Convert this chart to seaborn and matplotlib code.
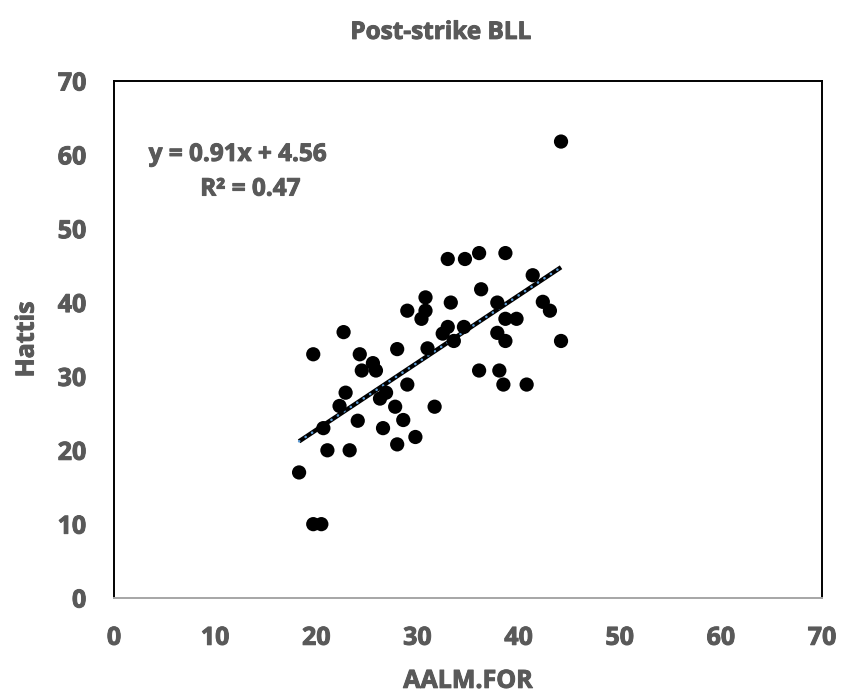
import numpy as np
import pandas as pd
import matplotlib
matplotlib.use("Agg")
import matplotlib.pyplot as plt
import matplotlib.patheffects as pe
import seaborn as sns

# AALM.FOR predictions vs. Hattis values (post-strike blood lead levels)
aalm_for = [18.3, 19.7, 20.5, 19.7, 20.7, 21.1, 22.3, 22.9, 22.7, 23.3,
            24.1, 24.3, 24.5, 25.6, 25.9, 26.3, 26.9, 26.6, 27.8, 28.0,
            28.0, 28.6, 29.0, 29.0, 29.8, 30.4, 30.8, 30.8, 31.0, 31.7,
            32.5, 33.0, 33.0, 33.3, 33.6, 34.6, 34.7, 36.1, 36.1, 36.3,
            37.9, 37.9, 38.1, 38.7, 38.7, 38.7, 38.5, 39.8, 40.8, 41.4,
            42.4, 43.1, 44.2, 44.2]
hattis = [17.0, 10.0, 10.0, 33.0, 23.0, 20.0, 26.0, 27.8, 36.0, 20.0,
          24.0, 33.0, 30.8, 31.8, 30.8, 27.0, 27.8, 23.0, 25.9, 20.8,
          33.7, 24.1, 28.9, 38.9, 21.8, 37.8, 38.9, 40.7, 33.8, 25.9,
          35.8, 36.7, 45.9, 40.0, 34.8, 36.7, 45.9, 46.7, 30.8, 41.8,
          40.0, 35.9, 30.8, 46.7, 37.8, 34.8, 28.9, 37.8, 28.9, 43.7,
          40.1, 38.9, 34.8, 61.8]

# Linear trendline coefficients and fit quality
slope = 0.91
intercept = 4.56
r_squared = 0.47

axis_ticks = [0, 10, 20, 30, 40, 50, 60, 70]

df = pd.DataFrame({"AALM.FOR": aalm_for, "Hattis": hattis})

sns.set_theme(style="white")
plt.rcParams["font.family"] = ["Open Sans", "DejaVu Sans"]
plt.rcParams["font.weight"] = "bold"

text_color = "#595959"
heavy = [pe.withStroke(linewidth=0.7, foreground=text_color)]
fs = 18

fig = plt.figure(figsize=(8.42, 7.0), dpi=100)
ax = fig.add_axes([0.1354, 0.1457, 0.8408, 0.7386])

# Trendline over the observed x range
x_line = np.array([min(aalm_for), max(aalm_for)])
line_df = pd.DataFrame({"x": x_line, "y": slope * x_line + intercept})
sns.lineplot(data=line_df, x="x", y="y", ax=ax, color="black", lw=3.2,
             zorder=3, solid_capstyle="butt")
sns.lineplot(data=line_df, x="x", y="y", ax=ax, color="#5b9bd5", lw=1.8,
             zorder=4, linestyle=(0, (0.1, 3.0)), dash_capstyle="round")

sns.scatterplot(data=df, x="AALM.FOR", y="Hattis", ax=ax, color="black",
                s=105, edgecolor="none", zorder=5)

ax.set_xlim(0, 70)
ax.set_ylim(0, 70)
ax.set_xticks(axis_ticks)
ax.set_yticks(axis_ticks)
ax.tick_params(axis="both", length=0, labelsize=fs, labelcolor=text_color)
ax.tick_params(axis="x", pad=20)
ax.tick_params(axis="y", pad=20)
for lbl in ax.get_xticklabels() + ax.get_yticklabels():
    lbl.set_fontweight("bold")
    lbl.set_path_effects(heavy)

ax.set_xlabel("AALM.FOR", fontsize=fs, fontweight="bold", color=text_color,
              labelpad=13, path_effects=heavy)
ax.set_ylabel("Hattis", fontsize=fs, fontweight="bold", color=text_color,
              labelpad=13, path_effects=heavy)

for side in ["left", "top", "right"]:
    ax.spines[side].set_color("black")
    ax.spines[side].set_linewidth(1.4)
ax.spines["bottom"].set_color("#a6a6a6")
ax.spines["bottom"].set_linewidth(1.4)

fig.text(0.523, 0.953, "Post-strike BLL", ha="center", va="center",
         fontsize=17.5, fontweight="bold", color=text_color, path_effects=heavy)

eq_fs = 17.5
ax.text(0.174, 0.857, f"y = {slope:.2f}x + {intercept:.2f}", transform=ax.transAxes,
        ha="center", va="center", fontsize=eq_fs, fontweight="bold", color=text_color,
        path_effects=heavy)
ax.text(0.192, 0.79, f"R² = {r_squared:.2f}", transform=ax.transAxes,
        ha="center", va="center", fontsize=eq_fs, fontweight="bold", color=text_color,
        path_effects=heavy)

fig.savefig("out.png", dpi=100, facecolor="white")
